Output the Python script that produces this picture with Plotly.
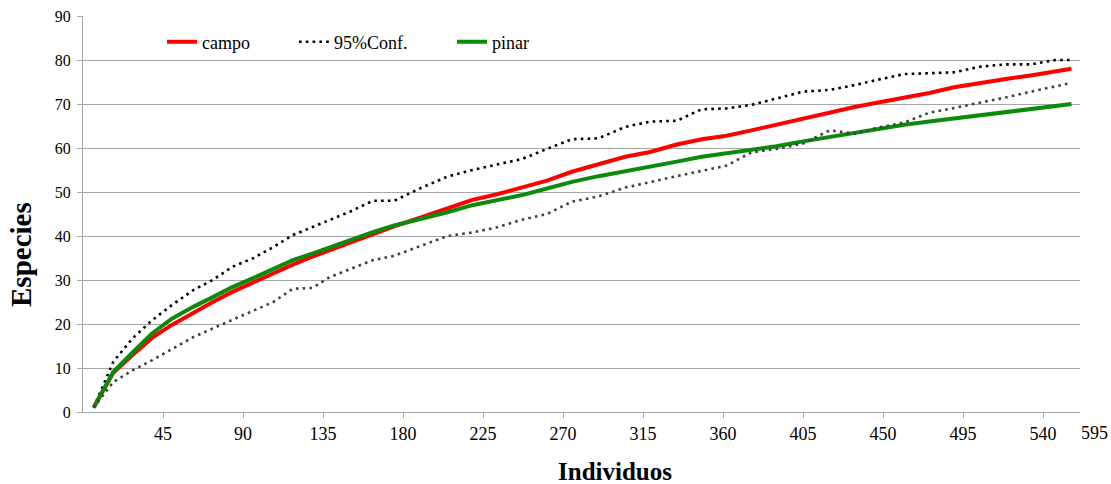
import plotly.graph_objects as go

individuos = [6, 17, 28, 39, 50, 62, 73, 84, 96, 107, 118, 129, 139, 150, 163, 175, 190, 205, 219, 233,
              247, 261, 275, 290, 305, 319, 334, 348, 362, 376, 390, 405, 420, 434, 448, 462, 476, 490,
              505, 519, 533, 547, 556]

campo = [1, 8.9, 13.0, 16.9, 19.8, 22.6, 25.0, 27.3, 29.5, 31.6, 33.5, 35.3, 36.8, 38.5, 40.6, 42.2,
         44.2, 46.2, 48.2, 49.5, 51.0, 52.6, 54.6, 56.3, 58.0, 59.1, 60.8, 62.0, 62.8, 64.0, 65.3, 66.6,
         68.0, 69.3, 70.4, 71.4, 72.5, 73.8, 74.9, 75.7, 76.5, 77.3, 78.0]

pinar = [1, 9.1, 13.6, 17.9, 21.2, 23.9, 26.1, 28.4, 30.5, 32.5, 34.5, 36.0, 37.5, 39.0, 40.9, 42.4,
         43.8, 45.4, 47.0, 48.1, 49.3, 50.8, 52.3, 53.6, 54.8, 55.7, 56.9, 58.0, 58.8, 59.4, 60.4, 61.5,
         62.5, 63.4, 64.3, 65.3, 66.0, 66.7, 67.6, 68.3, 68.9, 69.5, 70.0]

conf_sup = [1, 11.4, 16.8, 20.9, 24.3, 27.7, 30.0, 33.0, 35.0, 37.5, 40.2, 42.0, 43.7, 45.5, 48.0, 48.0,
            50.9, 53.5, 55.0, 56.2, 57.5, 59.8, 62.0, 62.2, 64.8, 66.0, 66.2, 68.8, 69.0, 69.8, 71.2, 72.8,
            73.2, 74.3, 75.6, 76.8, 77.0, 77.2, 78.5, 79.0, 79.0, 80.0, 80.0]

conf_inf = [1, 6.8, 9.5, 11.8, 14.3, 17.0, 19.0, 21.0, 23.0, 25.0, 28.0, 28.2, 30.7, 32.5, 34.5, 35.5,
            37.8, 40.0, 40.8, 42.0, 43.7, 45.0, 47.8, 49.0, 51.0, 52.3, 53.6, 54.8, 56.0, 59.0, 59.8, 61.0,
            64.0, 63.3, 64.7, 65.8, 68.0, 69.1, 70.3, 71.5, 72.8, 74.0, 74.8]

x_ticks = [45, 90, 135, 180, 225, 270, 315, 360, 405, 450, 495, 540]
x_ticktext = [str(v) for v in x_ticks]
x_last_label = "595"
y_ticks = list(range(0, 91, 10))

FONT = "Liberation Serif"
DOT = "2.6px,4.2px"

W, H = 1111, 484
ML, MR, MT, MB = 83, 31, 16, 72
PW = W - ML - MR  # 997
PH = H - MT - MB  # 396


def px_to_paper_x(page_x):
    return (page_x - ML) / PW


LEG_Y = (PH - (42 - MT)) / PH

fig = go.Figure()
fig.add_trace(go.Scatter(x=individuos, y=campo, mode="lines", name="campo", legend="legend",
                         line=dict(color="#FF0000", width=4)))
fig.add_trace(go.Scatter(x=individuos, y=conf_sup, mode="lines", name="95%Conf.", legend="legend2",
                         line=dict(color="#000000", width=2.6, dash=DOT)))
fig.add_trace(go.Scatter(x=individuos, y=pinar, mode="lines", name="pinar", legend="legend3",
                         line=dict(color="#0B8A0B", width=4)))
fig.add_trace(go.Scatter(x=individuos, y=conf_inf, mode="lines", name="95%Conf.", showlegend=False,
                         line=dict(color="#404040", width=2.6, dash=DOT)))

leg_common = dict(orientation="h", xanchor="left", yanchor="middle", y=LEG_Y,
                  font=dict(family=FONT, size=18, color="#000000"), bgcolor="rgba(0,0,0,0)",
                  borderwidth=0)

fig.update_layout(
    width=W, height=H,
    margin=dict(l=ML, r=MR, t=MT, b=MB, autoexpand=False),
    paper_bgcolor="white", plot_bgcolor="white",
    font=dict(family=FONT, size=16, color="#000000"),
    showlegend=True,
    legend=dict(x=px_to_paper_x(162), **leg_common),
    legend2=dict(x=px_to_paper_x(294), **leg_common),
    legend3=dict(x=px_to_paper_x(452), **leg_common),
    xaxis=dict(range=[0, 560.8], tickmode="array", tickvals=x_ticks, ticktext=x_ticktext,
               showgrid=False, zeroline=False, showline=True, linecolor="#A6A6A6", linewidth=1,
               ticks="outside", ticklen=5, tickcolor="#A6A6A6", ticklabelstandoff=0,
               ticklabeloverflow="allow", tickfont=dict(family=FONT, size=18)),
    yaxis=dict(range=[0, 90], tickmode="array", tickvals=y_ticks,
               showgrid=True, gridcolor="#A6A6A6", gridwidth=1, zeroline=False,
               showline=True, linecolor="#A6A6A6", linewidth=1,
               ticks="outside", ticklen=5, tickcolor="#A6A6A6", ticklabelstandoff=3,
               ticklabeloverflow="allow", tickfont=dict(family=FONT, size=16)),
    annotations=[
        dict(text=x_last_label, xref="paper", yref="paper", x=px_to_paper_x(1094), y=0, yshift=-21,
             xanchor="center", yanchor="middle", showarrow=False,
             font=dict(family=FONT, size=18)),
        dict(text="<b>Individuos</b>", xref="paper", yref="paper", x=px_to_paper_x(615), y=0,
             yshift=-59, xanchor="center", yanchor="middle", showarrow=False,
             font=dict(family=FONT, size=25)),
        dict(text="<b>Especies</b>", xref="paper", yref="paper", x=0, xshift=-62,
             y=(412 - 255) / PH, xanchor="center", yanchor="middle", textangle=-90, showarrow=False,
             font=dict(family=FONT, size=29)),
    ],
)

# remove the default 8px body margin so the 1111x484 figure fills the window exactly
fig.write_html("out.html", config={"displayModeBar": False},
               post_script="document.body.style.margin='0';")
